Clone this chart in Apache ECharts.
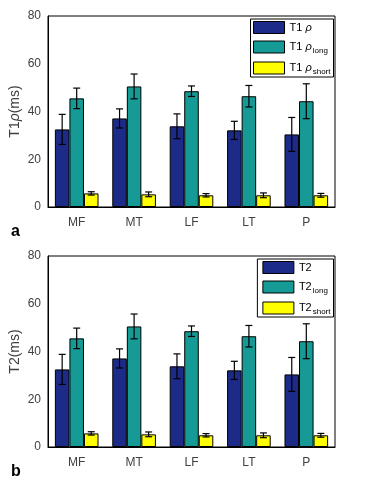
<!DOCTYPE html>
<html>
<head>
<meta charset="utf-8">
<style>
  html, body { margin: 0; padding: 0; background: #fff; }
  #chart { width: 378px; height: 496px; }
</style>
<script src="https://cdn.jsdelivr.net/npm/echarts@6/dist/echarts.min.js"></script>
</head>
<body>
<div id="chart"></div>
<script>
// regions
const categories = ['MF', 'MT', 'LF', 'LT', 'P'];

// panel a: T1rho (ms), mean and error
const t1Mean = [32.5, 37.1, 33.8, 32.1, 30.4];
const t1Err = [6.3, 4.0, 5.2, 3.8, 7.1];
const t1LongMean = [45.5, 50.5, 48.5, 46.4, 44.3];
const t1LongErr = [4.3, 5.2, 2.2, 4.5, 7.3];
const t1ShortMean = [5.7, 5.3, 4.9, 4.9, 4.9];
const t1ShortErr = [0.7, 1.0, 0.7, 1.0, 0.8];

// panel b: T2 (ms), mean and error
const t2Mean = [32.5, 37.1, 33.8, 32.1, 30.4];
const t2Err = [6.3, 4.0, 5.2, 3.8, 7.1];
const t2LongMean = [45.5, 50.5, 48.5, 46.4, 44.3];
const t2LongErr = [4.3, 5.2, 2.2, 4.5, 7.3];
const t2ShortMean = [5.7, 5.3, 4.9, 4.9, 4.9];
const t2ShortErr = [0.7, 1.0, 0.7, 1.0, 0.8];

const yTicks = [0, 20, 40, 60, 80];

const colors = ['#1c2a88', '#169a95', '#ffff00'];
const font = 'Liberation Sans, Arial, sans-serif';
const textColor = '#404040';
const gapPct = 24;

const chart = echarts.init(document.getElementById('chart'));

const makeBar = (name, data, idx, color) => ({
  type: 'bar',
  name: name,
  xAxisIndex: idx,
  yAxisIndex: idx,
  data: data,
  barGap: '0%',
  barCategoryGap: gapPct + '%',
  itemStyle: { color: color, borderColor: '#000', borderWidth: 1 },
  emphasis: { disabled: true }
});

// error bars drawn over each bar of the group
const makeErr = (means, errs, idx, k) => ({
  type: 'custom',
  xAxisIndex: idx,
  yAxisIndex: idx,
  z: 10,
  silent: true,
  data: means.map((m, i) => [i, m, errs[i]]),
  encode: { x: 0, y: 1 },
  renderItem: (params, api) => {
    const x = api.value(0);
    const m = api.value(1);
    const e = api.value(2);
    const band = api.size([1, 0])[0];
    const bw = band * (1 - gapPct / 100) / 3;
    const cx = api.coord([x, m])[0] + (k - 1) * bw;
    const top = api.coord([x, m + e])[1];
    const bot = api.coord([x, m - e])[1];
    const cap = 3.5;
    const style = { stroke: '#000', lineWidth: 1.2 };
    return {
      type: 'group',
      children: [
        { type: 'line', shape: { x1: cx, y1: top, x2: cx, y2: bot }, style: style },
        { type: 'line', shape: { x1: cx - cap, y1: top, x2: cx + cap, y2: top }, style: style },
        { type: 'line', shape: { x1: cx - cap, y1: bot, x2: cx + cap, y2: bot }, style: style }
      ]
    };
  }
});

// names like 'T1 |ρ|_long': '|' marks the italic rho, '_' the subscript
const richName = (n) => {
  const [main, sub] = n.split('_');
  const bits = main.split('|');
  let out = '{m|' + bits[0] + '}';
  if (bits.length > 1) out += '{r|' + bits[1] + '}';
  if (sub) out += '{s|' + sub + '}';
  return out;
};

const makeLegend = (names, top, padLeft) => ({
  data: names,
  orient: 'vertical',
  right: 44.5,
  top: top,
  itemWidth: 31,
  itemHeight: 12,
  itemGap: 6.5,
  padding: [2, 3, 1, padLeft],
  borderColor: '#000',
  borderWidth: 1,
  backgroundColor: '#fff',
  selectedMode: false,
  icon: 'rect',
  itemStyle: { borderColor: '#000', borderWidth: 1 },
  formatter: richName,
  textStyle: {
    fontFamily: font,
    color: '#000',
    rich: {
      m: { fontSize: 11, fontFamily: font, color: '#000', lineHeight: 16 },
      r: { fontSize: 11, fontFamily: font, fontStyle: 'italic', color: '#000', lineHeight: 16 },
      s: { fontSize: 8, fontFamily: font, color: '#000', lineHeight: 8, verticalAlign: 'bottom', padding: [0, 0, 0, 1] }
    }
  }
});

const xAxisCfg = (idx) => ({
  type: 'category',
  gridIndex: idx,
  data: categories,
  axisLine: { lineStyle: { color: '#000', width: 1 } },
  axisTick: { show: false },
  axisLabel: { fontFamily: font, fontSize: 12, color: textColor, margin: 10 }
});

const yAxisCfg = (idx, name) => ({
  type: 'value',
  gridIndex: idx,
  min: yTicks[0],
  max: yTicks[yTicks.length - 1],
  interval: 20,
  name: name,
  nameLocation: 'middle',
  nameGap: 26,
  nameMoveOverlap: false,
  nameTextStyle: {
    fontFamily: font, fontSize: 14, color: textColor,
    rich: {
      m: { fontFamily: font, fontSize: 14, color: textColor },
      r: { fontFamily: font, fontSize: 14, fontStyle: 'italic', color: textColor }
    }
  },
  axisLine: { show: true, lineStyle: { color: '#000', width: 1 } },
  axisTick: { show: false },
  splitLine: { show: false },
  axisLabel: { fontFamily: font, fontSize: 12, color: textColor, margin: 7 }
});

const gridCfg = (top) => ({
  left: 48, top: top, width: 287, height: 191,
  outerBoundsMode: 'none',
  containLabel: false,
  show: true, borderColor: '#000', borderWidth: 1, backgroundColor: 'transparent'
});

chart.setOption({
  animation: false,
  title: [
    { text: 'a', left: 6, top: 219, textStyle: { fontFamily: font, fontSize: 16, fontWeight: 'bold', color: '#000' } },
    { text: 'b', left: 6, top: 459, textStyle: { fontFamily: font, fontSize: 16, fontWeight: 'bold', color: '#000' } }
  ],
  legend: [
    makeLegend(['T1 |ρ', 'T1 |ρ_long', 'T1 |ρ_short'], 19, 2.5),
    makeLegend(['T2', 'T2_long', 'T2_short'], 259, 5)
  ],
  grid: [gridCfg(16), gridCfg(256)],
  xAxis: [xAxisCfg(0), xAxisCfg(1)],
  yAxis: [yAxisCfg(0, '{m|T1}{r|ρ}{m|(ms)}'), yAxisCfg(1, '{m|T2(ms)}')],
  series: [
    makeBar('T1 |ρ', t1Mean, 0, colors[0]),
    makeBar('T1 |ρ_long', t1LongMean, 0, colors[1]),
    makeBar('T1 |ρ_short', t1ShortMean, 0, colors[2]),
    makeErr(t1Mean, t1Err, 0, 0),
    makeErr(t1LongMean, t1LongErr, 0, 1),
    makeErr(t1ShortMean, t1ShortErr, 0, 2),
    makeBar('T2', t2Mean, 1, colors[0]),
    makeBar('T2_long', t2LongMean, 1, colors[1]),
    makeBar('T2_short', t2ShortMean, 1, colors[2]),
    makeErr(t2Mean, t2Err, 1, 0),
    makeErr(t2LongMean, t2LongErr, 1, 1),
    makeErr(t2ShortMean, t2ShortErr, 1, 2)
  ]
});
</script>
</body>
</html>
